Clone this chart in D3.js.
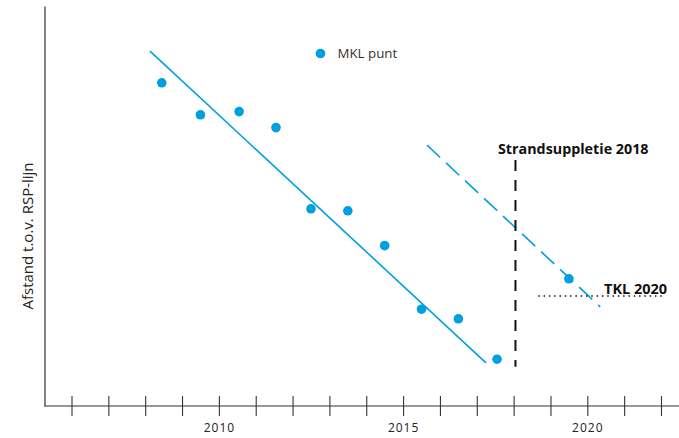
<!DOCTYPE html>
<html>
<head>
<meta charset="utf-8">
<script src="https://cdn.jsdelivr.net/npm/d3@7"></script>
<style>
  body { margin: 0; background: #fff; }
  svg { display: block; font-family: "Open Sans", "Noto Sans", sans-serif; }
</style>
</head>
<body>
<div id="chart"></div>
<script>
// ---------- data (y in relative units, 0 = bottom of axis)
const years = [2008.45, 2009.5, 2010.55, 2011.55, 2012.5, 2013.5, 2014.5, 2015.5, 2016.5, 2017.55, 2019.5]
const afstand = [80.8, 72.8, 73.6, 69.6, 49.3, 48.8, 40.1, 24.2, 21.8, 11.7, 31.8]

const trendYears = [2008.13, 2017.25]
const trendValues = [88.7, 10.8]

const prognoseYears = [2015.65, 2020.35]
const prognoseValues = [65.2, 24.8]

const suppletieYear = 2018.05
const suppletieRange = [61.5, 9.8]

const tklYears = [2018.67, 2022.1]
const tklValue = 27.5

const tickYears = d3.range(2006, 2023)
const labelYears = [2010, 2015, 2020]

// ---------- dimensions
const width = 679, height = 438
const blue = "#009fdf"

const svg = d3.select("#chart").append("svg")
    .attr("width", width)
    .attr("height", height)

// ---------- scales
const x = d3.scaleLinear()
    .domain([2006, 2022])
    .range([71.5, 661])

const y = d3.scaleLinear()
    .domain([0, 100])
    .range([406, 6])

const xAxisY = y(0)
const yAxisX = 44.5

// ---------- axes
const yAxis = svg.append("g")
    .attr("transform", `translate(${yAxisX},0)`)
    .call(d3.axisLeft(y).ticks(0).tickSizeOuter(0))
yAxis.select(".domain").attr("stroke", "#333").attr("stroke-width", 1.2)

svg.append("line")
    .attr("x1", yAxisX).attr("x2", width)
    .attr("y1", xAxisY).attr("y2", xAxisY)
    .attr("stroke", "#333").attr("stroke-width", 1.2)

const xAxis = svg.append("g")
    .attr("transform", `translate(0,${xAxisY})`)
    .call(d3.axisBottom(x)
        .tickValues(tickYears)
        .tickSize(10)
        .tickPadding(7)
        .tickFormat(d => labelYears.includes(d) ? d : ""))
xAxis.select(".domain").remove()
xAxis.selectAll(".tick line")
    .attr("y1", -10)
    .attr("stroke", "#333")
    .attr("stroke-width", 1.1)
xAxis.selectAll(".tick text")
    .attr("fill", "#222")
    .style("font-size", "12px")
    .style("letter-spacing", "1px")
    .style("font-family", "'Open Sans', sans-serif")

svg.append("text")
    .attr("transform", `translate(33,${236}) rotate(-90)`)
    .attr("text-anchor", "middle")
    .attr("fill", "#222")
    .style("font-size", "15px")
    .text("Afstand t.o.v. RSP-lijn")

// ---------- lines
const line = d3.line().x(d => x(d[0])).y(d => y(d[1]))

svg.append("path")
    .attr("d", line(d3.zip(trendYears, trendValues)))
    .attr("fill", "none")
    .attr("stroke", blue)
    .attr("stroke-width", 1.6)

svg.append("path")
    .attr("d", line(d3.zip(prognoseYears, prognoseValues)))
    .attr("fill", "none")
    .attr("stroke", blue)
    .attr("stroke-width", 1.6)
    .attr("stroke-dasharray", "18,8")

svg.append("line")
    .attr("x1", x(suppletieYear)).attr("x2", x(suppletieYear))
    .attr("y1", y(suppletieRange[0])).attr("y2", y(suppletieRange[1]))
    .attr("stroke", "#111")
    .attr("stroke-width", 2)
    .attr("stroke-dasharray", "11,9")

svg.append("line")
    .attr("x1", x(tklYears[0])).attr("x2", x(tklYears[1]))
    .attr("y1", y(tklValue)).attr("y2", y(tklValue))
    .attr("stroke", "#111")
    .attr("stroke-width", 1.5)
    .attr("stroke-dasharray", "1.5,3.8")

// ---------- points
svg.append("g").selectAll("circle")
    .data(d3.zip(years, afstand))
    .join("circle")
    .attr("cx", d => x(d[0]))
    .attr("cy", d => y(d[1]))
    .attr("r", 4.8)
    .attr("fill", blue)

// ---------- annotations
svg.append("text")
    .attr("x", 498).attr("y", 154)
    .attr("fill", "#111")
    .style("font-size", "14.3px")
    .style("font-weight", "bold")
    .text("Strandsuppletie 2018")

svg.append("text")
    .attr("x", 604).attr("y", 294)
    .attr("fill", "#111")
    .style("font-size", "14.5px")
    .style("font-weight", "bold")
    .text("TKL 2020")

// ---------- legend
svg.append("circle")
    .attr("cx", 320.5).attr("cy", 53.5)
    .attr("r", 4.8)
    .attr("fill", blue)

svg.append("text")
    .attr("x", 337.5).attr("y", 58)
    .attr("fill", "#333")
    .style("font-size", "13.3px")
    .text("MKL punt")
</script>
</body>
</html>
